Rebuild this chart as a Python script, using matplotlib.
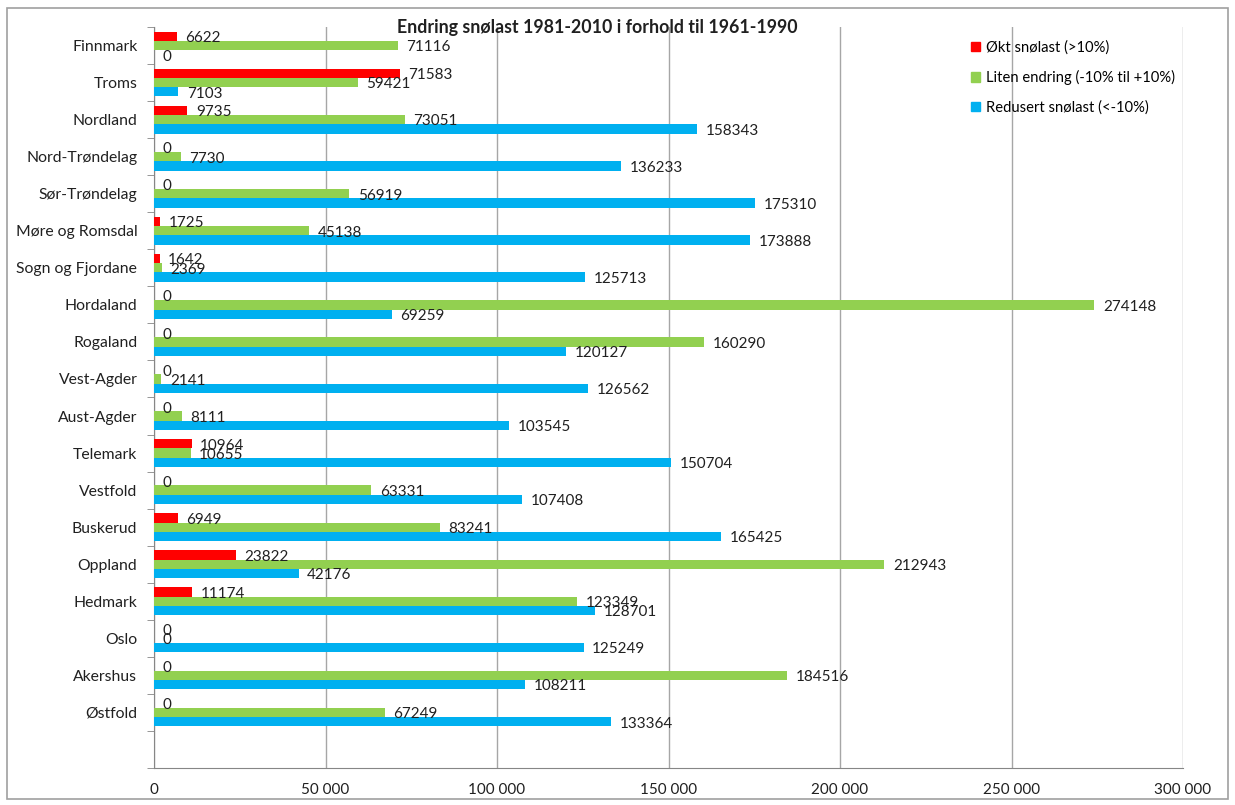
import matplotlib.pyplot as plt
from matplotlib.patches import Patch, Rectangle
from matplotlib.ticker import FuncFormatter, FixedLocator

plt.rcParams['font.family'] = ['Lato', 'DejaVu Sans']

fylker = ["Finnmark", "Troms", "Nordland", "Nord-Trøndelag", "Sør-Trøndelag",
          "Møre og Romsdal", "Sogn og Fjordane", "Hordaland", "Rogaland",
          "Vest-Agder", "Aust-Agder", "Telemark", "Vestfold", "Buskerud",
          "Oppland", "Hedmark", "Oslo", "Akershus", "Østfold"]
okt = [6622, 71583, 9735, 0, 0, 1725, 1642, 0, 0, 0, 0, 10964, 0, 6949,
       23822, 11174, 0, 0, 0]
liten = [71116, 59421, 73051, 7730, 56919, 45138, 2369, 274148, 160290,
         2141, 8111, 10655, 63331, 83241, 212943, 123349, 0, 184516, 67249]
redusert = [0, 7103, 158343, 136233, 175310, 173888, 125713, 69259, 120127,
            126562, 103545, 150704, 107408, 165425, 42176, 128701, 125249,
            108211, 133364]

serier = [
    ("Økt snølast (>10%)", okt, "#FF0000", -0.25),
    ("Liten endring (-10% til +10%)", liten, "#92D050", 0.0),
    ("Redusert snølast (<-10%)", redusert, "#00B0F0", 0.25),
]

fig = plt.figure(figsize=(12.35, 8.05), dpi=100)
fig.patches.append(Rectangle((0.006, 0.008), 0.988, 0.982, transform=fig.transFigure,
                             fill=False, edgecolor="#A0A0A0", linewidth=1.2))
ax = fig.add_axes([154 / 1235, 37 / 805, (1183 - 154) / 1235, (768 - 27) / 805])

pos = list(range(len(fylker)))
for navn, verdier, farge, off in serier:
    y = [p + off for p in pos]
    ax.barh(y, verdier, height=0.25, color=farge, label=navn, zorder=3)
    for yy, v in zip(y, verdier):
        ax.text(v + 2500, yy + 0.05, str(v), va="center", ha="left",
                fontsize=11, color="#202020", zorder=4)

ax.set_xlim(0, 300000)
ax.set_ylim(19.5, -0.5)
ax.set_yticks(pos)
ax.set_yticklabels(fylker, fontsize=11.3, color="#202020")
ax.yaxis.set_minor_locator(FixedLocator([p + 0.5 for p in range(-1, 20)]))
ax.tick_params(axis="y", which="major", length=0, pad=12)
ax.tick_params(axis="y", which="minor", length=5, color="#868686")
ax.set_xticks(range(0, 300001, 50000))
ax.xaxis.set_major_formatter(FuncFormatter(lambda v, p: f"{int(v):,}".replace(",", " ")))
ax.tick_params(axis="x", length=0, pad=11, labelsize=11, labelcolor="#202020")
ax.grid(axis="x", color="#A6A6A6", linewidth=1, zorder=0)
for s in ["top", "right"]:
    ax.spines[s].set_visible(False)
for s in ["left", "bottom"]:
    ax.spines[s].set_color("#868686")

fig.text(597 / 1235, 1 - 27 / 805, "Endring snølast 1981-2010 i forhold til 1961-1990",
         ha="center", va="center", fontsize=12.8, fontweight="bold", color="#202020")

handles = [Patch(color=f, label=n) for n, _, f, _ in serier]
fig.legend(handles=handles, loc="upper left", bbox_to_anchor=(958 / 1235, 1 - 27 / 805),
           frameon=False, fontsize=10.6, handlelength=0.6, handleheight=0.6,
           handletextpad=0.4, labelspacing=1.05)

fig.savefig("out.png", dpi=100)
